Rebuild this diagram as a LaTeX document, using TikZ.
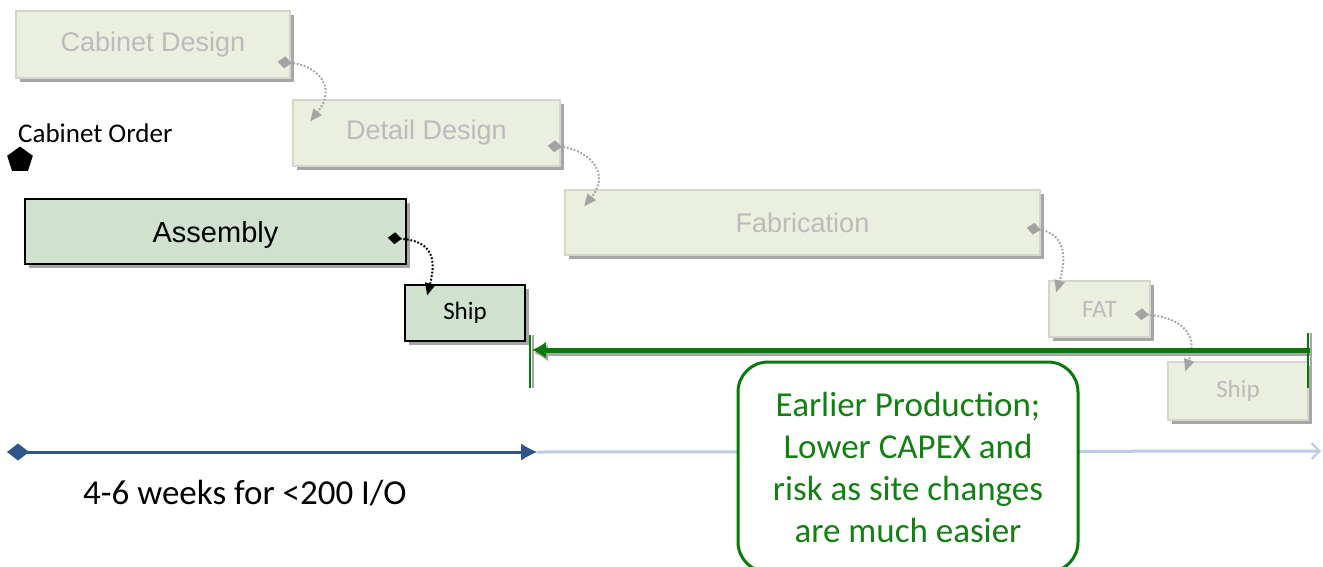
\documentclass[tikz,border=0pt]{standalone}
\usepackage{fontspec}
\setmainfont{Carlito}
\newfontfamily\arialf{Liberation Sans}
\usetikzlibrary{shapes.geometric,shadows,arrows.meta,calc}
\definecolor{gfill}{HTML}{EBEFDF}
\definecolor{gdraw}{HTML}{D3D7CB}
\definecolor{gtext}{HTML}{BBBBBB}
\definecolor{afill}{HTML}{D0E2CF}
\definecolor{dgreen}{HTML}{0A780A}
\definecolor{tgreen}{HTML}{138013}
\definecolor{dblue}{HTML}{2F5688}
\definecolor{lblue}{HTML}{BACDE5}
\definecolor{shad}{HTML}{A6A6A6}
\definecolor{conng}{HTML}{A3A3A3}
\tikzset{
  taskshadow/.style={drop shadow={shadow xshift=3.5pt,shadow yshift=-3.5pt,fill=shad,opacity=1}},
  graytask/.style={rectangle, inner sep=0pt, fill=gfill, draw=gdraw, line width=1.5pt, taskshadow, text=gtext},
  greentask/.style={rectangle, inner sep=0pt, fill=afill, draw=black, line width=1.5pt, taskshadow, text=black},
  conn/.style={line width=2pt, dash pattern=on 1.8pt off 1.8pt, {Diamond[length=14pt,width=12pt,line width=0pt]}-{Triangle[length=12pt,width=11pt,line width=0pt]}},
  arialbig/.style={font=\arialf\fontsize{27}{32}\selectfont},
  calibri/.style={font=\fontsize{25}{30}\selectfont},
}
\begin{document}
\begin{tikzpicture}[x=1pt,y=-1pt]
\clip (0,0) rectangle (1323,566);
\fill[white] (0,0) rectangle (1323,566);

% gray (conventional) tasks
\node[graytask, arialbig, minimum width=274pt, minimum height=67pt] (cd) at (153,44.5) {Cabinet Design};
\node[graytask, arialbig, minimum width=267pt, minimum height=66pt] (dd) at (426.5,133) {Detail Design};
\node[graytask, arialbig, minimum width=475pt, minimum height=65pt] (fab) at (802.5,222.5) {Fabrication};
\node[graytask, calibri, minimum width=101pt, minimum height=56pt] (fat) at (1099.5,309) {FAT};
\node[graytask, calibri, minimum width=140pt, minimum height=58pt] (ship2) at (1238,391) {Ship};

% green (new) tasks
\node[greentask, font=\arialf\fontsize{29}{34}\selectfont, minimum width=381pt, minimum height=65pt, text depth=0pt, text height=21pt] (asm) at (215.5,231.5) {Assembly};
\node[greentask, calibri, minimum width=120pt, minimum height=56pt] (ship1) at (465,313) {Ship};

% milestone
\node[regular polygon, regular polygon sides=5, fill=black, inner sep=0pt, minimum size=27pt] (ms) at (20,160) {};
\node[font=\fontsize{27}{32}\selectfont, anchor=west, inner sep=0pt] (mslabel) at (18,133) {Cabinet Order};

% connector endpoints
\coordinate (cdS) at ([xshift=-13pt,yshift=17pt]cd.south east);
\coordinate (ddT) at ([xshift=18pt,yshift=-22pt]dd.north west);
\coordinate (ddS) at ([xshift=-13pt,yshift=21pt]dd.south east);
\coordinate (fabT) at ([xshift=20pt,yshift=-17pt]fab.north west);
\coordinate (fabS) at ([xshift=-14pt,yshift=28pt]fab.south east);
\coordinate (fatT) at ([xshift=8pt,yshift=-12pt]fat.north west);
\coordinate (fatS) at ([xshift=-16pt,yshift=24pt]fat.south east);
\coordinate (shipT) at ([xshift=18pt,yshift=-10pt]ship2.north west);
\coordinate (asmS) at ([xshift=-19pt,yshift=27pt]asm.south east);
\coordinate (ship1T) at ([xshift=23pt,yshift=-11pt]ship1.north west);

\draw[conn, conng] (cdS) .. controls +(38pt,-3pt) and +(28pt,35pt) .. (ddT);
\draw[conn, conng] (ddS) .. controls +(38pt,-3pt) and +(28pt,35pt) .. (fabT);
\draw[conn, conng] (fabS) .. controls +(35pt,-5pt) and +(12pt,40pt) .. (fatT);
\draw[conn, conng] (fatS) .. controls +(42pt,-3pt) and +(14pt,40pt) .. (shipT);
\draw[conn, black] (asmS) .. controls +(42pt,-3pt) and +(10pt,40pt) .. (ship1T);

% saving arrow
\coordinate (gL) at (530,335);
\coordinate (gLb) at (530,388);
\coordinate (gR) at (1308,333);
\coordinate (gRb) at (1308,388);
\coordinate (aR) at (1310,350);
\coordinate (aL) at (532,350);
\draw[shad, line width=2pt] ([xshift=3pt]gL) -- ([xshift=3pt]gLb);
\draw[shad, line width=2pt] ([xshift=3pt]gR) -- ([xshift=3pt]gRb);
\draw[shad, line width=5pt, -{Latex[length=14pt,width=17pt]}] ([xshift=2pt,yshift=-3pt]aR) -- ([xshift=2pt,yshift=-3pt]aL);
\draw[dgreen, line width=2pt] (gL) -- (gLb);
\draw[dgreen, line width=2pt] (gR) -- (gRb);
\draw[dgreen, line width=5pt, -{Latex[length=14pt,width=17pt]}] (aR) -- (aL);

% time axis
\coordinate (t0) at (7,452);
\coordinate (t1) at (537,452);
\coordinate (t2) at (1321,451);
\draw[lblue, line width=3pt, -{Straight Barb[length=8pt,width=16pt,line width=2pt]}] (t1) -- (t2);
\draw[dblue, line width=3pt, {Diamond[length=22pt,width=17pt,line width=0pt]}-{Latex[length=16pt,width=17pt,line width=0pt]}] (t0) -- (t1);
\node[font=\fontsize{35}{42}\selectfont, anchor=west, inner sep=0pt] (weeks) at (83,493) {4-6 weeks for <200 I/O};

% callout
\node[draw=dgreen, line width=3pt, fill=white, rounded corners=30pt, minimum width=340pt, minimum height=210pt, align=center, text=tgreen, font=\fontsize{35}{42}\selectfont] (note) at (908,467) {Earlier Production;\\Lower CAPEX and\\risk as site changes\\are much easier};
\end{tikzpicture}
\end{document}
